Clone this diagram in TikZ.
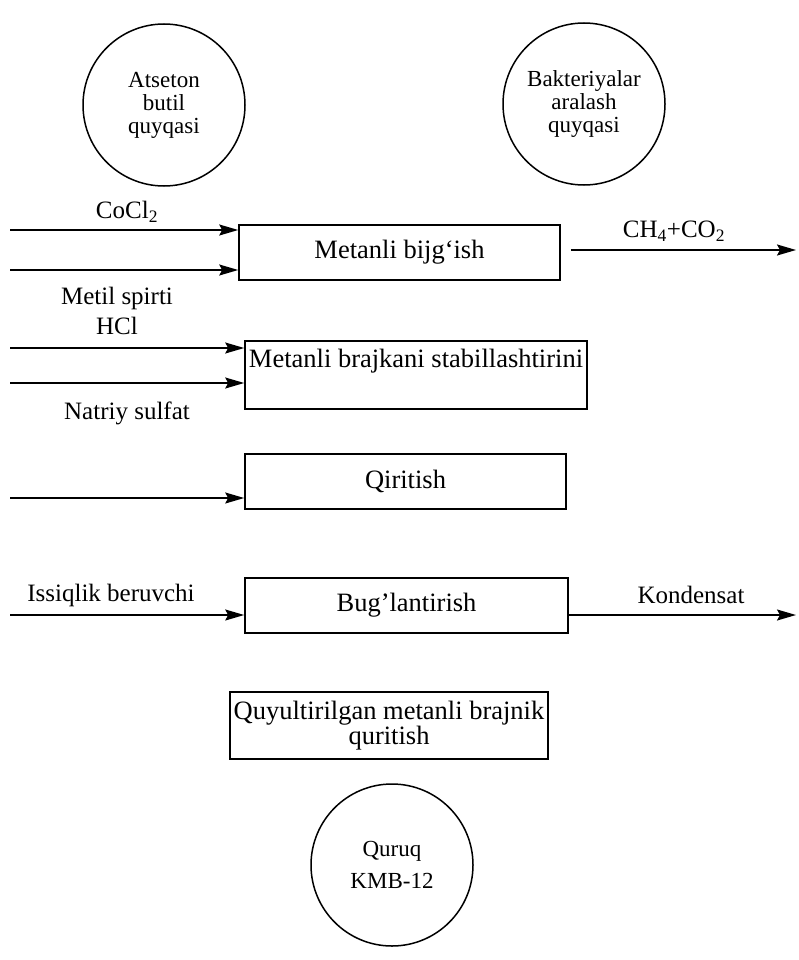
\documentclass[tikz,border=0pt]{standalone}
\usepackage{fontspec}
\setmainfont{Liberation Serif}
\usepackage{tikz}
\usetikzlibrary{positioning,arrows.meta,calc}
\tikzset{
    feed/.style={circle,draw,line width=1.5pt,minimum size=162pt,inner sep=0pt,align=center,
        font=\fontsize{23}{23}\selectfont},
    stage/.style={rectangle,draw,line width=1.6pt,minimum height=55pt,inner sep=0pt,align=center,
        font=\fontsize{26.5}{25}\selectfont},
    lbl/.style={inner sep=0pt,font=\fontsize{25}{25}\selectfont},
    flow/.style={-{Stealth[length=19pt,width=11pt,inset=3pt]},line width=1.6pt},
}

\begin{document}
\begin{tikzpicture}[x=1pt,y=-1pt]
\useasboundingbox (0,0) rectangle (798,960);

% raw materials
\node[feed] (aceton) at (164,105) {Atseton\\butil\\quyqasi};
\node[feed] (bact)   at (584,104) {Bakteriyalar\\aralash\\quyqasi};

% process stages
\node[stage,minimum width=321pt] (ferm) at (399.5,252.5) {Metanli bijg‘ish};
\node[stage,minimum width=342pt,minimum height=68pt] (stab) at (416,375) {Metanli brajkani stabillashtirini\\ \strut};
\node[stage,minimum width=321pt] (dry) at (405.5,481.5) {Qiritish};
\node[stage,minimum width=323pt] (evap) at (406.5,605.5) {Bug'lantirish};
\node[stage,minimum width=318pt,minimum height=67pt] (conc) at (389,725.5) {Quyultirilgan metanli brajnik\\quritish};

% product
\node[feed] (prod) at (392,865) {Quruq\\[9pt]KMB-12};

% free ends of the feed lines
\coordinate (in1) at (10,230);
\coordinate (in2) at (10,270);
\coordinate (in3) at (10,348);
\coordinate (in4) at (10,383);
\coordinate (in5) at (10,498);
\coordinate (in6) at (10,615);
\coordinate (out1) at (796,250);
\coordinate (out2) at (796,615);

\draw[flow] (in1) -- (in1 -| ferm.west);
\draw[flow] (in2) -- (in2 -| ferm.west);
\draw[flow] ([xshift=10pt]ferm.east |- out1) -- (out1);
\draw[flow] (in3) -- (in3 -| stab.west);
\draw[flow] (in4) -- (in4 -| stab.west);
\draw[flow] (in5) -- (in5 -| dry.west);
\draw[flow] (in6) -- (in6 -| evap.west);
\draw[flow] (evap.east |- out2) -- (out2);

% stream labels
\node[lbl] (cocl)  at (127,212) {CoCl\textsubscript{2}};
\node[lbl] (gas)   at (674,231) {CH\textsubscript{4}+CO\textsubscript{2}};
\node[lbl] (metil) at (117,298) {Metil spirti};
\node[lbl] (hcl)   at (117,326) {HCl};
\node[lbl] (natr)  at (127,413) {Natriy sulfat};
\node[lbl] (heat)  at (111,595) {Issiqlik beruvchi};
\node[lbl] (cond)  at (691,595) {Kondensat};
\end{tikzpicture}
\end{document}
